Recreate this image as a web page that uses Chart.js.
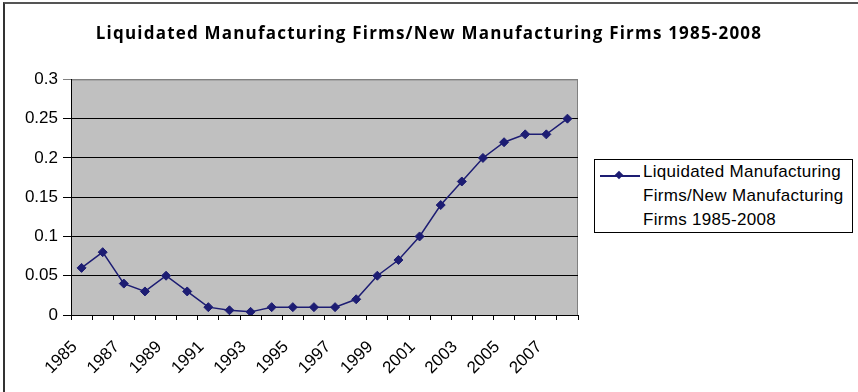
<!DOCTYPE html>
<html>
<head>
<meta charset="utf-8">
<script src="https://cdn.jsdelivr.net/npm/chart.js@4.4.1/dist/chart.umd.min.js"></script>
<style>
  body { margin: 0; background: #fff; }
  #wrap { position: relative; width: 858px; height: 392px; overflow: hidden; }
  #frame { position: absolute; left: 3px; top: 2px; width: 900px; height: 500px;
           border-left: 2px solid #333; border-top: 2px solid #555; pointer-events: none; }
  #legend { position: absolute; left: 594px; top: 159px; width: 257px; height: 72px;
            border: 1px solid #000; background: #fff;
            font: 17px "Liberation Sans", Arial, sans-serif; color: #000; }
  #legend .ln { position: absolute; left: 5px; top: 15px; width: 40px; height: 1.5px; background: #1d1d73; }
  #legend .dm { position: absolute; left: 21px; top: 12px; width: 6px; height: 6px; background: #1d1d73; transform: rotate(45deg); }
  #legend .txt { position: absolute; left: 48px; top: 0; line-height: 24px; letter-spacing: 0.3px; white-space: nowrap; }
</style>
</head>
<body>
<div id="wrap">
  <canvas id="chart"></canvas>
  <div id="frame"></div>
  <div id="legend">
    <span class="ln"></span><span class="dm"></span>
    <div class="txt">Liquidated Manufacturing<br>Firms/New Manufacturing<br>Firms 1985-2008</div>
  </div>
</div>
<script>
const years = ['1985', '1986', '1987', '1988', '1989', '1990', '1991', '1992', '1993', '1994', '1995', '1996',
               '1997', '1998', '1999', '2000', '2001', '2002', '2003', '2004', '2005', '2006', '2007', '2008'];
const ratio = [0.06, 0.08, 0.04, 0.03, 0.05, 0.03, 0.01, 0.006, 0.004, 0.01, 0.01, 0.01,
               0.01, 0.02, 0.05, 0.07, 0.10, 0.14, 0.17, 0.20, 0.22, 0.23, 0.23, 0.25];
const yTicks = ['0', '0.05', '0.1', '0.15', '0.2', '0.25', '0.3'];
const seriesName = 'Liquidated Manufacturing Firms/New Manufacturing Firms 1985-2008';
const chartTitle = 'Liquidated Manufacturing Firms/New Manufacturing Firms 1985-2008';

const lineColor = '#1d1d73';
const axisFont = { family: '"Liberation Sans", Arial, sans-serif', size: 17 };

// grauer Hintergrund der Zeichenfläche, Titel etwas gesperrt
const plotBg = {
  id: 'plotBg',
  beforeDraw(chart) {
    const { ctx, chartArea: a } = chart;
    ctx.save();
    ctx.fillStyle = '#c0c0c0';
    ctx.fillRect(a.left, a.top, a.right - a.left, a.bottom - a.top);
    ctx.strokeStyle = '#808080';
    ctx.lineWidth = 1;
    ctx.beginPath();
    ctx.moveTo(a.left, a.top + 0.5);
    ctx.lineTo(a.right - 0.5, a.top + 0.5);
    ctx.lineTo(a.right - 0.5, a.bottom);
    ctx.stroke();
    ctx.restore();

    const t = chart.titleBlock;
    if (t && !t._spaced) {
      const draw = t.draw.bind(t);
      t.draw = (...args) => {
        ctx.save();
        ctx.letterSpacing = '1.2px';
        draw(...args);
        ctx.restore();
      };
      t._spaced = true;
    }
  }
};

new Chart(document.getElementById('chart'), {
  type: 'line',
  data: {
    labels: years,
    datasets: [{
      label: seriesName,
      data: ratio,
      borderColor: lineColor,
      backgroundColor: lineColor,
      borderWidth: 1.5,
      pointStyle: 'rectRot',
      pointRadius: 4.5,
      pointBorderWidth: 1,
      tension: 0
    }]
  },
  options: {
    responsive: true,
    maintainAspectRatio: false,
    animation: false,
    layout: { padding: 0 },
    plugins: {
      legend: { display: false },
      tooltip: { enabled: false },
      title: {
        display: true,
        text: chartTitle,
        color: '#000',
        font: { family: '"Open Sans", sans-serif', size: 17, weight: 'bold' },
        padding: { top: 24, bottom: 35 }
      }
    },
    scales: {
      x: {
        offset: true,
        grid: { display: true, drawOnChartArea: false, offset: true, color: '#000', tickLength: 5 },
        border: { color: '#000', width: 1 },
        ticks: {
          autoSkip: false,
          minRotation: 45,
          maxRotation: 45,
          color: '#000',
          font: axisFont,
          padding: 17,
          labelOffset: -7,
          callback: (v, i) => (i % 2 === 0 ? years[i] : '')
        },
        afterFit: s => { s.height = 77; }
      },
      y: {
        min: 0,
        max: 0.3,
        ticks: {
          stepSize: 0.05,
          color: '#000',
          font: axisFont,
          padding: 5,
          callback: (v, i) => yTicks[i]
        },
        grid: {
          color: c => (c.index === yTicks.length - 1 ? '#808080' : '#000'),
          tickLength: 8
        },
        border: { color: '#000', width: 1 },
        afterFit: s => { s.width = 71; }
      },
      // leerer Platz rechts für die Legende
      yRight: {
        position: 'right',
        display: true,
        ticks: { display: false },
        grid: { display: false },
        border: { display: false },
        afterFit: s => { s.width = 280; }
      }
    }
  },
  plugins: [plotBg]
});
</script>
</body>
</html>
